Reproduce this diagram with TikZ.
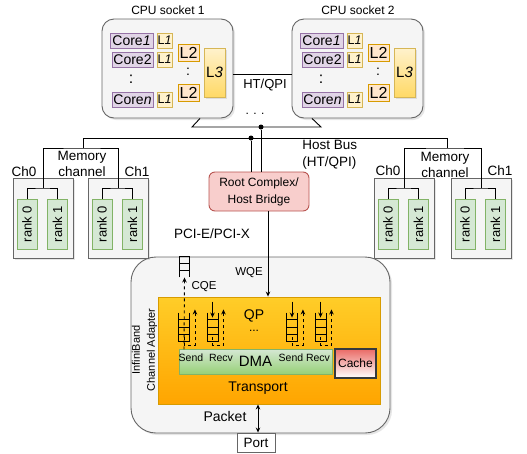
\documentclass[tikz,border=0pt]{standalone}
\usepackage{fontspec}
\setmainfont{Liberation Sans}
\usetikzlibrary{arrows.meta,calc,shadows}

\definecolor{boxgray}{HTML}{F5F5F5}
\definecolor{linegray}{HTML}{666666}
\definecolor{corefill}{HTML}{E1D5E7}
\definecolor{coreline}{HTML}{9673A6}
\definecolor{lonefill}{HTML}{FFF2CC}
\definecolor{loneline}{HTML}{D6B656}
\definecolor{ltwofill}{HTML}{FFE6CC}
\definecolor{ltwoline}{HTML}{D79B00}
\definecolor{lthreebot}{HTML}{FFD966}
\definecolor{rankfill}{HTML}{D5E8D4}
\definecolor{rankline}{HTML}{82B366}
\definecolor{dmabot}{HTML}{97D077}
\definecolor{rootfill}{HTML}{F8CECC}
\definecolor{rootline}{HTML}{B85450}
\definecolor{trtop}{HTML}{FFCD28}
\definecolor{trbot}{HTML}{FFA500}
\definecolor{cachetop}{HTML}{EA6B66}
\definecolor{cacheline}{HTML}{36393D}

\newcommand{\fsz}[2]{\fontsize{#1}{#2}\selectfont}

\tikzset{
  shade/.style={drop shadow={opacity=0.2,shadow xshift=2pt,shadow yshift=-2pt}},
  socket/.style={draw=linegray,fill=boxgray,rounded corners=12pt,minimum width=131pt,minimum height=99pt,shade},
  core/.style={draw=coreline,fill=corefill,minimum width=41pt,minimum height=15pt,inner sep=0pt,font=\fsz{14}{16}},
  lone/.style={draw=loneline,fill=lonefill,minimum size=15pt,inner sep=0pt,font=\fsz{12.5}{14}},
  ltwo/.style={draw=ltwoline,fill=ltwofill,minimum width=21pt,minimum height=17pt,inner sep=0pt,font=\fsz{16}{18}},
  lthree/.style={draw=loneline,top color=lonefill,bottom color=lthreebot,minimum width=21pt,minimum height=49pt,inner sep=0pt,font=\fsz{15}{17},shade},
  chbox/.style={draw=linegray,fill=boxgray,minimum width=60pt,minimum height=80pt,shade},
  rankbox/.style={draw=rankline,fill=rankfill,minimum width=20pt,minimum height=50pt,inner sep=0pt,font=\fsz{13}{15}},
  rootbox/.style={draw=rootline,fill=rootfill,rounded corners=6pt,minimum width=100pt,minimum height=39pt,align=center,font=\fsz{12}{17}},
  ibbox/.style={draw=linegray,fill=boxgray,rounded corners=25pt,minimum width=259pt,minimum height=176pt,shade},
  transport/.style={draw=ltwoline,top color=trtop,bottom color=trbot,minimum width=222pt,minimum height=107pt},
  dmabox/.style={draw=rankline,top color=rankfill,bottom color=dmabot,minimum width=153pt,minimum height=25pt,font=\fsz{15}{17}},
  cachebox/.style={draw=cacheline,line width=1.8pt,top color=cachetop,bottom color=white,minimum width=41pt,minimum height=29pt,inner sep=0pt,font=\fsz{12}{14}},
  portbox/.style={draw=linegray,fill=white,minimum width=38pt,minimum height=19pt,inner sep=0pt,font=\fsz{13.5}{16}},
  qbox/.style={minimum width=10pt,minimum height=28pt,inner sep=0pt},
  junction/.style={circle,fill=black,inner sep=0pt,minimum size=5pt},
  txt/.style={inner sep=0pt,align=center,font=\fsz{13.5}{16}},
  tip/.style={-{Stealth[length=5pt,width=4.5pt]}},
}

\begin{document}
\begin{tikzpicture}[x=1pt,y=-1pt,line width=0.9pt]
\useasboundingbox (0,0) rectangle (527,453);

% draw CPU sockets
\foreach \s/\dx in {1/0,2/190} {
  \node[socket] (sock\s) at (167.5+\dx,68.5) {};
  \node[txt,font=\fsz{12}{14}] (socklab\s) at (168+\dx,10) {CPU socket \s};
  \node[core,minimum width=43pt] (corea\s) at (131.5+\dx,40.5) {Core\textit{1}};
  \node[core] (coreb\s) at (132.5+\dx,59.5) {Core2};
  \node[core] (coren\s) at (132.5+\dx,99.5) {Core\textit{n}};
  \node[txt,font=\fsz{16}{18}] (cdots\s) at (131+\dx,79) {:};
  \node[lone] (lonea\s) at (164.5+\dx,40.5) {L\textit{1}};
  \node[lone] (loneb\s) at (164.5+\dx,59.5) {L\textit{1}};
  \node[lone] (lonen\s) at (164.5+\dx,99.5) {L\textit{1}};
  \node[ltwo] (ltwoa\s) at (188.5+\dx,52.5) {L2};
  \node[ltwo] (ltwob\s) at (188.5+\dx,92.5) {L2};
  \node[txt,font=\fsz{14}{16}] (ldots\s) at (188+\dx,72) {:};
  \node[lthree] (lthree\s) at (214.5+\dx,72.5) {L\textit{3}};
}

% HT/QPI link between the sockets
\draw ([yshift=-5.5pt]sock1.east) -- ([yshift=-5.5pt]sock2.west);
\node[txt,font=\fsz{13}{15}] (htqpi) at (265,85) {HT/QPI};

% socket bus
\coordinate (busl) at (192,127);
\coordinate (busr) at (321,127);
\draw ([xshift=32.5pt]sock1.south) -- (busl) -- (busr) -- ([xshift=-45.5pt]sock2.south);
\node[txt,font=\fsz{12}{14}] (busdots) at (255,114) {. . .};
\node[junction] (ja) at (261,127) {};

% host bus
\coordinate (hbl) at (83,138);
\coordinate (hbr) at (447,138);
\draw (hbl) -- (hbr);
\node[junction] (jb) at (251,138) {};
\node[txt,anchor=west,align=left,font=\fsz{13.5}{17}] (hostbus) at (302,154.5) {Host Bus\\(HT/QPI)};

% channel adapter
\node[ibbox] (ib) at (260.5,345) {};

% memory channels
\foreach \c/\cx in {a/43,b/118,c/404,d/481} {
  \node[chbox] (ch\c) at (\cx,218) {};
  \node[rankbox] (rank\c0) at (\cx-16,224) {\rotatebox{90}{rank 0}};
  \node[rankbox] (rank\c1) at (\cx+14.5,224) {\rotatebox{90}{rank 1}};
  \coordinate (chin\c) at (\cx,188);
  \draw (rank\c0.north) |- (chin\c) -| (rank\c1.north);
}
\coordinate (mcl) at (83,148);
\coordinate (mcr) at (447,148);
\draw (china) |- (mcl) -| (chinb);
\draw (chinc) |- (mcr) -| (chind);
\draw (hbl) -- (mcl);
\draw (hbr) -- (mcr);

\node[txt] (chla) at (24,172) {Ch0};
\node[txt] (chlb) at (137,172) {Ch1};
\node[txt] (meml) at (82,163.5) {Memory\\channel};
\node[txt] (chlc) at (388,171) {Ch0};
\node[txt] (chld) at (500,171) {Ch1};
\node[txt] (memr) at (445,164.5) {Memory\\channel};

% root complex
\node[rootbox] (root) at (259,191.5) {Root Complex/\\Host Bridge};
\draw (ja) -- (ja |- root.north);
\draw (jb) -- (jb |- root.north);
\node[txt] (pci) at (212,234) {PCI-E/PCI-X};

% transport, DMA and cache
\node[transport] (tr) at (269,350.5) {};
\node[txt,font=\fsz{14}{16}] (trlab) at (258,388) {Transport};
\node[dmabox] (dma) at (255.5,361.5) {DMA};
\node[cachebox] (cache) at (355.5,363.5) {Cache};
\node[txt,rotate=90,font=\fsz{11}{15}] (iblab) at (144.5,350) {InfiniBand\\Channel Adapter};

\node[txt,font=\fsz{10.5}{12}] (senda) at (191,358) {Send};
\node[txt,font=\fsz{10.5}{12}] (recva) at (221,358) {Recv};
\node[txt,font=\fsz{10.5}{12}] (sendb) at (291,358) {Send};
\node[txt,font=\fsz{10.5}{12}] (recvb) at (318,358) {Recv};
\node[txt,font=\fsz{14}{16}] (qplab) at (254,316) {QP};
\node[txt,font=\fsz{12}{14}] (qpdots) at (254,331) {...};

% queue pairs
\foreach \q/\qx in {sa/184,ra/212.5,sb/292,rb/320.5}
  \node[qbox] (q\q) at (\qx,327) {};
\foreach \q in {sa,ra,sb,rb} {
  \draw (q\q.north west) -- (q\q.south west) -- (q\q.south east) -- (q\q.north east);
  \foreach \f in {0.25,0.5,0.75}
    \draw ($(q\q.south west)!\f!(q\q.north west)$) -- ($(q\q.south east)!\f!(q\q.north east)$);
  \draw[dashed,tip] ($(q\q.south)+(0,-4)$) -- ++(0,8) -| ($(q\q.south east)+(5.5,-32)$);
}
\foreach \q in {ra,sb,rb}
  \draw[tip] ($(q\q.north)+(0,-11)$) -- ($(q\q.north)+(0,5)$);

% completion queue
\node[qbox,minimum width=9pt,minimum height=20pt] (cq) at (184.5,267) {};
\draw (cq.south west) -- (cq.north west) -- (cq.north east) -- (cq.south east);
\foreach \f in {0.33,0.66}
  \draw ($(cq.north west)!\f!(cq.south west)$) -- ($(cq.north east)!\f!(cq.south east)$);
\draw[dashed,tip] ($(qsa.south)+(0,8)$) -- (cq.south);
\node[txt,font=\fsz{11.5}{13}] (cqe) at (204,287) {CQE};

% work request from the root complex
\draw[tip] ([xshift=9pt]root.south) -- ([xshift=9pt]root.south |- tr.north);
\node[txt,font=\fsz{11.5}{13}] (wqe) at (249,273) {WQE};

% port
\node[portbox] (port) at (256,442.5) {Port};
\draw[{Stealth[length=5pt,width=4.5pt]}-{Stealth[length=5pt,width=4.5pt]}] ([xshift=2pt]port.north |- tr.south) -- ([xshift=2pt]port.north);
\node[txt,font=\fsz{14}{16}] (packet) at (225,416) {Packet};

\end{tikzpicture}
\end{document}
